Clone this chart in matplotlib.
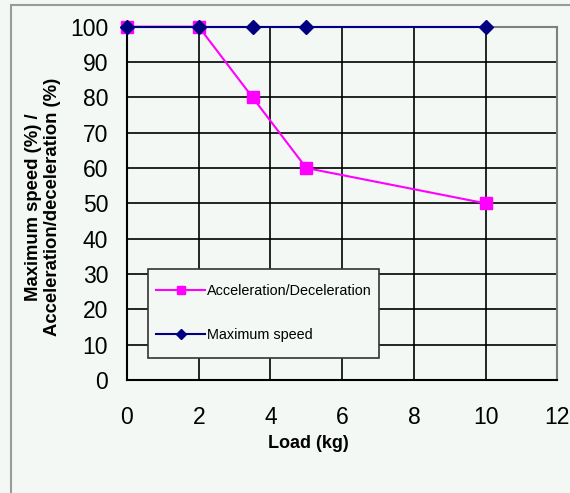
import matplotlib.pyplot as plt
from matplotlib.patches import Rectangle

# Load values (kg) and the percentage for each curve
load = [0, 2, 3.5, 5, 10]
accel_decel = [100, 100, 80, 60, 50]
max_speed = [100, 100, 100, 100, 100]
x_ticks = [0, 2, 4, 6, 8, 10, 12]
y_ticks = [0, 10, 20, 30, 40, 50, 60, 70, 80, 90, 100]

plt.rcParams['font.family'] = ['Liberation Sans', 'DejaVu Sans']

bg = '#f4f8f5'
fig = plt.figure(figsize=(5.7, 4.93), dpi=100, facecolor=bg)
ax = fig.add_axes([0.2228, 0.2292, 0.7551, 0.7166], facecolor=bg)

# outer frame of the chart area
fig.patches.append(Rectangle((11 / 570, -0.1), 1.2, 1 - 5 / 493 + 0.1,
                             transform=fig.transFigure, fill=False,
                             edgecolor='#9a9a9a', linewidth=1.5))

ax.plot(load, accel_decel, color='#ff00ff', marker='s', markersize=8,
        linewidth=1.5, label='Acceleration/Deceleration', clip_on=False, zorder=3)
ax.plot(load, max_speed, color='#000080', marker='D', markersize=7,
        linewidth=1.5, label='Maximum speed', clip_on=False, zorder=4)

ax.set_xlim(0, 12)
ax.set_ylim(0, 100)
ax.set_xticks(x_ticks)
ax.set_yticks(y_ticks)
ax.tick_params(length=0, labelsize=16.5)
ax.tick_params(axis='x', pad=19)
ax.tick_params(axis='y', pad=13.5)
ax.grid(True, color='black', linewidth=1.2)
ax.set_axisbelow(True)

for side in ['left', 'bottom']:
    ax.spines[side].set_color('black')
    ax.spines[side].set_linewidth(1.5)
for side in ['top', 'right']:
    ax.spines[side].set_color('#808080')
    ax.spines[side].set_linewidth(1.5)

fig.text(308 / 570, 1 - 443 / 493, 'Load (kg)', ha='center', va='center',
         fontsize=13, fontweight='bold')
fig.text(43 / 570, 1 - 207 / 493, 'Maximum speed (%) /\nAcceleration/deceleration (%)',
         ha='center', va='center', rotation=90, fontsize=13.3, fontweight='bold',
         linespacing=1.1)

# legend box
ax.add_patch(Rectangle((0.0488, 0.0623), 0.537, 0.252, transform=ax.transAxes,
                       facecolor=bg, edgecolor='#333333', linewidth=1.2, zorder=5))
leg = ax.legend(loc='upper left', bbox_to_anchor=(29 / 430.4, (380 - 284) / 353.3),
                frameon=False, fontsize=10.4, borderpad=0, borderaxespad=0,
                handlelength=3.4, labelspacing=2.05, handletextpad=0.15,
                markerscale=0.7)
leg.set_zorder(6)

fig.savefig('out.png', dpi=100, facecolor=bg)
